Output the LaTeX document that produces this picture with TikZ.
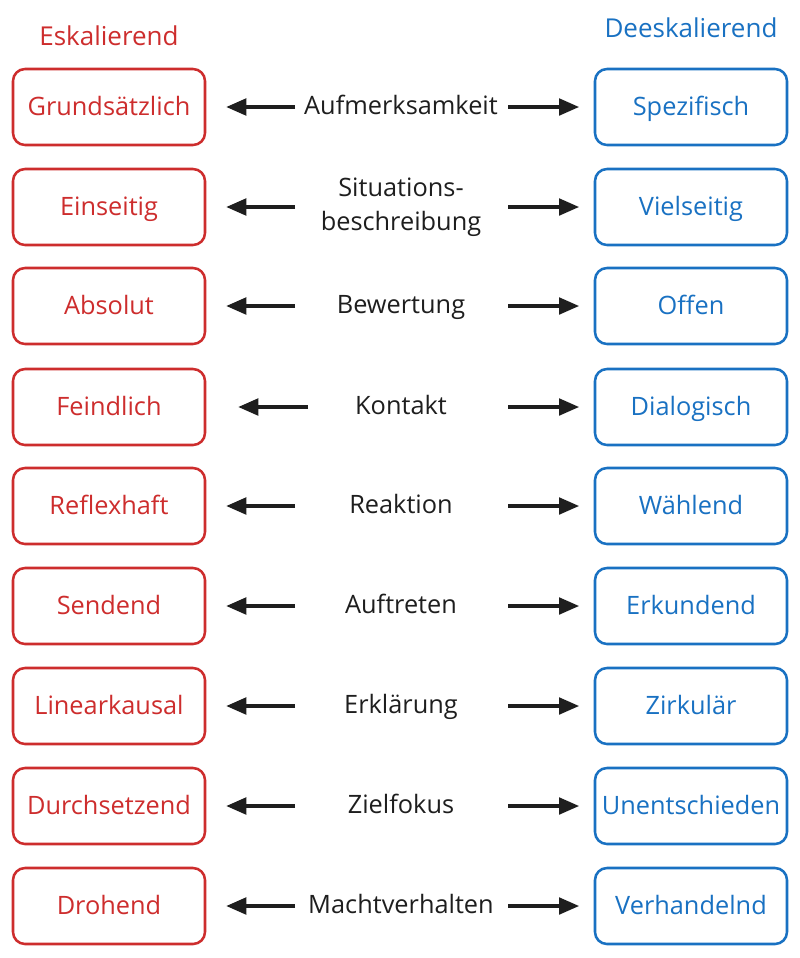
\documentclass[tikz,border=0pt]{standalone}
\usepackage{fontspec}
\setmainfont{Open Sans}
\usetikzlibrary{arrows.meta}

\definecolor{eskred}{RGB}{205,45,45}
\definecolor{deeskblue}{RGB}{25,113,194}
\definecolor{inkblack}{RGB}{30,30,30}

\tikzset{
  eskbox/.style={draw=eskred, text=eskred, line width=1.9pt, rounded corners=9pt,
    minimum width=144pt, minimum height=57pt, inner sep=0pt,
    text height=16.5pt, text depth=4.5pt,
    font=\fontsize{19}{23}\selectfont},
  deeskbox/.style={eskbox, draw=deeskblue, text=deeskblue},
  head/.style={inner sep=0.75pt, font=\fontsize{19.5}{23}\selectfont},
  topictwo/.style={text=inkblack, align=center, inner sep=0.75pt,
    font=\fontsize{19}{25.5}\selectfont},
  topic/.style={topictwo, text height=16pt, text depth=4.5pt},
  arr/.style={draw=inkblack, line width=2.3pt, -{Triangle[length=15pt,width=12.5pt]}},
  arrl/.style={arr, shorten >=15pt},
  arrr/.style={arr, shorten >=11pt},
}

\begin{document}
\begin{tikzpicture}[x=0.75pt,y=0.75pt,yscale=-1,xscale=1]
\useasboundingbox (0,0) rectangle (800,958);

% Headers
\node[head, text=eskred] (hesk) at (109,36) {Eskalierend};
\node[head, text=deeskblue] (hdeesk) at (691,28) {Deeskalierend};

%Row 1
\node[eskbox] (e1) at (109,107) {Grundsätzlich};
\node[topic] (t1) at (401,107) {Aufmerksamkeit};
\node[deeskbox] (d1) at (691,107) {Spezifisch};
\coordinate (l1) at (295,107);
\coordinate (r1) at (508,107);
\draw[arrl] (l1) -- (e1.east);
\draw[arrr] (r1) -- (d1.west);

%Row 2
\node[eskbox] (e2) at (109,207) {Einseitig};
\node[topictwo] (t2) at (401,207) {Situations-\\beschreibung};
\node[deeskbox] (d2) at (691,207) {Vielseitig};
\coordinate (l2) at (295,207);
\coordinate (r2) at (508,207);
\draw[arrl] (l2) -- (e2.east);
\draw[arrr] (r2) -- (d2.west);

%Row 3
\node[eskbox] (e3) at (109,306) {Absolut};
\node[topic] (t3) at (401,306) {Bewertung};
\node[deeskbox] (d3) at (691,306) {Offen};
\coordinate (l3) at (295,306);
\coordinate (r3) at (508,306);
\draw[arrl] (l3) -- (e3.east);
\draw[arrr] (r3) -- (d3.west);

%Row 4
\node[eskbox] (e4) at (109,407) {Feindlich};
\node[topic] (t4) at (401,407) {Kontakt};
\node[deeskbox] (d4) at (691,407) {Dialogisch};
\coordinate (l4) at (308,407);
\coordinate (r4) at (508,407);
\draw[arr, shorten >=24pt] (l4) -- (e4.east);
\draw[arrr] (r4) -- (d4.west);

%Row 5
\node[eskbox] (e5) at (109,506) {Reflexhaft};
\node[topic] (t5) at (401,506) {Reaktion};
\node[deeskbox] (d5) at (691,506) {Wählend};
\coordinate (l5) at (295,506);
\coordinate (r5) at (508,506);
\draw[arrl] (l5) -- (e5.east);
\draw[arrr] (r5) -- (d5.west);

%Row 6
\node[eskbox] (e6) at (109,606) {Sendend};
\node[topic] (t6) at (401,606) {Auftreten};
\node[deeskbox] (d6) at (691,606) {Erkundend};
\coordinate (l6) at (295,606);
\coordinate (r6) at (508,606);
\draw[arrl] (l6) -- (e6.east);
\draw[arrr] (r6) -- (d6.west);

%Row 7
\node[eskbox] (e7) at (109,706) {Linearkausal};
\node[topic] (t7) at (401,706) {Erklärung};
\node[deeskbox] (d7) at (691,706) {Zirkulär};
\coordinate (l7) at (295,706);
\coordinate (r7) at (508,706);
\draw[arrl] (l7) -- (e7.east);
\draw[arrr] (r7) -- (d7.west);

%Row 8
\node[eskbox] (e8) at (109,806) {Durchsetzend};
\node[topic] (t8) at (401,806) {Zielfokus};
\node[deeskbox] (d8) at (691,806) {Unentschieden};
\coordinate (l8) at (295,806);
\coordinate (r8) at (508,806);
\draw[arrl] (l8) -- (e8.east);
\draw[arrr] (r8) -- (d8.west);

%Row 9
\node[eskbox] (e9) at (109,906) {Drohend};
\node[topic] (t9) at (401,906) {Machtverhalten};
\node[deeskbox] (d9) at (691,906) {Verhandelnd};
\coordinate (l9) at (295,906);
\coordinate (r9) at (508,906);
\draw[arrl] (l9) -- (e9.east);
\draw[arrr] (r9) -- (d9.west);

\end{tikzpicture}
\end{document}
